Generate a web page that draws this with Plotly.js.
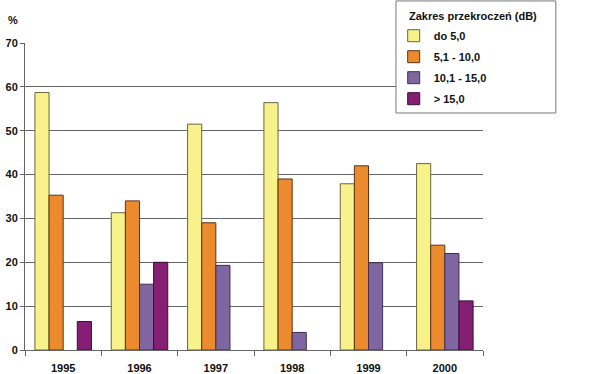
<!DOCTYPE html>
<html>
<head>
<meta charset="utf-8">
<script src="https://cdn.plot.ly/plotly-3.0.1.min.js"></script>
<style>html,body{margin:0;padding:0;background:#fff;}#chart{width:592px;height:374px;}</style>
</head>
<body>
<div id="chart"></div>
<script>
const years = ["1995", "1996", "1997", "1998", "1999", "2000"];
const seriesNames = ["do 5,0", "5,1 - 10,0", "10,1 - 15,0", "> 15,0"];
const s1 = [58.7, 31.3, 51.5, 56.4, 37.9, 42.5];
const s2 = [35.3, 34.0, 29.0, 39.0, 42.0, 23.9];
const s3 = [null, 15.0, 19.3, 4.0, 19.9, 22.0];
const s4 = [6.5, 20.0, null, null, null, 11.2];
const yTicks = [0, 10, 20, 30, 40, 50, 60, 70];
const legendTitle = "Zakres przekroczeń (dB)";

const colors = ["#F7F38A", "#EC8A2E", "#8066A0", "#851F73"];
const lineColors = ["#6b6440", "#5a3414", "#3f3050", "#3a0f32"];
const all = [s1, s2, s3, s4];

const data = all.map((vals, i) => ({
  type: "bar",
  name: seriesNames[i],
  legendgroup: "g" + i,
  x: years,
  y: vals,
  marker: {color: colors[i], line: {color: lineColors[i], width: 1}},
  hoverinfo: "skip"
}));

const FAM = "Liberation Sans, Arial, sans-serif";

const layout = {
  width: 592, height: 374,
  margin: {l: 25, r: 109, t: 43, b: 24, autoexpand: false},
  paper_bgcolor: "#fff", plot_bgcolor: "#fff",
  barmode: "group", bargap: 0.26, bargroupgap: 0,
  font: {family: FAM, size: 11, color: "#111"},
  showlegend: true,
  legend: {
    x: 0.805, xanchor: "left", y: 1.071, yanchor: "top",
    bgcolor: "rgba(0,0,0,0)", borderwidth: 0,
    font: {family: FAM, size: 11, color: "#111", weight: "bold"},
    traceorder: "grouped", tracegroupgap: 2, itemwidth: 30
  },
  shapes: [{
    type: "rect", xref: "paper", yref: "paper",
    x0: 0.810, x1: 1.159, y0: 0.772, y1: 1.137,
    fillcolor: "#fff", line: {color: "#777", width: 1}, layer: "above"
  }],
  xaxis: {
    type: "category",
    showline: true, linecolor: "#666", linewidth: 1,
    ticks: "outside", tickson: "boundaries", ticklen: 5, tickcolor: "#666",
    ticklabelstandoff: 8,
    tickfont: {family: FAM, size: 11, color: "#111", weight: "bold"},
    showgrid: false, fixedrange: true
  },
  yaxis: {
    range: [0, 70],
    tickvals: yTicks,
    showline: true, linecolor: "#666", linewidth: 1,
    ticks: "outside", ticklen: 4, tickcolor: "#666",
    showgrid: true, gridcolor: "#666", gridwidth: 1,
    zeroline: false,
    tickfont: {family: FAM, size: 11, color: "#111", weight: "bold"},
    fixedrange: true
  },
  annotations: [{
    text: "<b>%</b>", xref: "paper", yref: "paper", x: -0.026, y: 1.075,
    xanchor: "center", yanchor: "middle", showarrow: false,
    font: {family: FAM, size: 11, color: "#111"}
  }, {
    text: "<b>" + legendTitle + "</b>", xref: "paper", yref: "paper", x: 0.834, y: 1.088,
    xanchor: "left", yanchor: "middle", showarrow: false,
    font: {family: FAM, size: 11, color: "#111"}
  }]
};

Plotly.newPlot("chart", data, layout, {displayModeBar: false, staticPlot: true});
</script>
</body>
</html>
